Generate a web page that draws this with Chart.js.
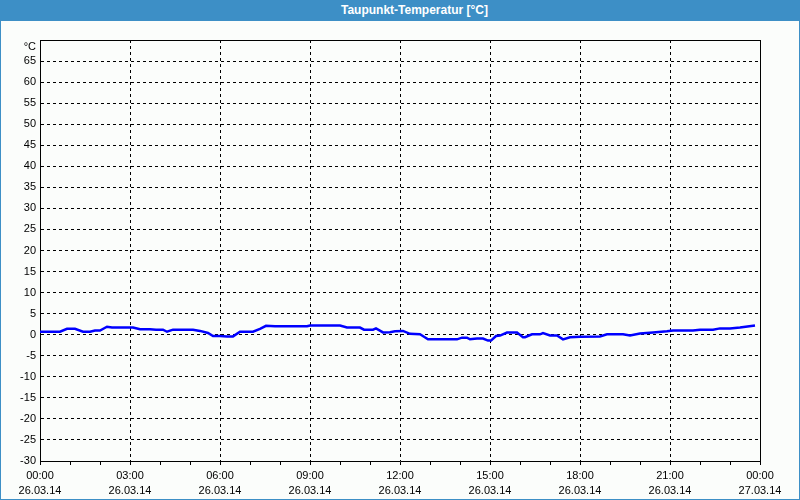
<!DOCTYPE html>
<html lang="de">
  <head>
    <meta charset="UTF-8" />
    <title>Taupunkt-Temperatur</title>
    <script src="https://cdn.jsdelivr.net/npm/chart.js"></script>
    <style>
      body {
        margin: 0;
        background: #ffffff;
      }
      .frame {
        width: 800px;
        height: 500px;
        box-sizing: border-box;
        border: 1px solid #3d8fc6;
        border-top: none;
        background: #fbfdfb;
      }
      .frame-title {
        height: 21px;
        margin: 0 -1px;
        background: #3d8fc6;
        color: #ffffff;
        font: bold 12px "Liberation Sans", Arial, sans-serif;
        line-height: 21px;
        text-align: center;
        padding-left: 29px;
        box-sizing: border-box;
      }
      .chart-box {
        position: relative;
        width: 798px;
        height: 478px;
      }
    </style>
  </head>

  <body>
    <div class="frame">
      <div class="frame-title">Taupunkt-Temperatur [°C]</div>
      <div class="chart-box">
        <canvas id="dewChart"></canvas>
      </div>
    </div>

    <script>
      // Messzeitpunkte (26.03.14, 00:00 - 24:00)
      const times = [
        "0:00", "0:40", "0:54", "1:10", "1:26", "1:40", "1:50", "2:00",
        "2:14", "2:24", "3:06", "3:20", "3:40", "3:52", "4:06", "4:14",
        "4:26", "5:06", "5:20", "5:36", "5:46", "6:00", "6:14", "6:26",
        "6:40", "7:06", "7:20", "7:32", "7:50", "8:54", "9:00", "10:00",
        "10:14", "10:40", "10:48", "11:06", "11:12", "11:26", "11:40", "11:50",
        "12:06", "12:20", "12:40", "12:48", "12:56", "13:54", "14:04", "14:14",
        "14:20", "14:34", "14:46", "14:56", "15:02", "15:12", "15:20", "15:34",
        "15:54", "16:06", "16:10", "16:24", "16:40", "16:46", "17:00", "17:14",
        "17:26", "17:40", "18:00", "18:40", "18:54", "19:26", "19:40", "20:00",
        "20:26", "20:54", "21:06", "21:46", "22:00", "22:26", "22:40", "23:00",
        "23:20", "23:50"
      ];

      // Taupunkt in °C
      const dewPoint = [
        0.7, 0.7, 1.4, 1.4, 0.7, 0.7, 1.0, 1.0,
        1.9, 1.7, 1.7, 1.3, 1.3, 1.2, 1.2, 0.7,
        1.2, 1.2, 0.9, 0.4, -0.3, -0.3, -0.4, -0.4,
        0.7, 0.7, 1.4, 2.1, 2.0, 2.0, 2.2, 2.2,
        1.7, 1.7, 1.2, 1.2, 1.5, 0.55, 0.6, 0.8,
        0.9, 0.2, 0.1, -0.5, -1.1, -1.1, -0.7, -0.7,
        -1.1, -0.9, -0.9, -1.4, -1.4, -0.3, -0.2, 0.5,
        0.5, -0.6, -0.6, 0.1, 0.1, 0.4, -0.2, -0.2,
        -1.1, -0.6, -0.5, -0.4, 0.1, 0.1, -0.2, 0.3,
        0.55, 0.8, 1.0, 1.0, 1.2, 1.2, 1.5, 1.5,
        1.7, 2.2
      ];

      // Achsenbeschriftung
      const hourLabels = ["00:00", "03:00", "06:00", "09:00", "12:00", "15:00", "18:00", "21:00", "00:00"];
      const dateLabels = ["26.03.14", "26.03.14", "26.03.14", "26.03.14", "26.03.14", "26.03.14", "26.03.14", "26.03.14", "27.03.14"];
      const yUnit = "°C";

      function toHours(t) {
        const parts = t.split(":");
        return Number(parts[0]) + Number(parts[1]) / 60;
      }

      const points = times.map(function (t, i) {
        return { x: toHours(t), y: dewPoint[i] };
      });

      // Rahmen oben und rechts
      const frameLines = {
        id: "frameLines",
        afterDraw: function (chart) {
          const a = chart.chartArea;
          const ctx = chart.ctx;
          ctx.save();
          ctx.strokeStyle = "#000000";
          ctx.lineWidth = 1;
          ctx.beginPath();
          ctx.moveTo(Math.round(a.left) + 0.5, Math.round(a.top) + 0.5);
          ctx.lineTo(Math.round(a.right) + 0.5, Math.round(a.top) + 0.5);
          ctx.lineTo(Math.round(a.right) + 0.5, Math.round(a.bottom) + 0.5);
          ctx.stroke();
          ctx.restore();
        },
      };

      const tickFont = { family: "'Liberation Sans', Arial, sans-serif", size: 11, lineHeight: 1.4 };

      var dewCtx = document.getElementById("dewChart").getContext("2d");
      var dewChart = new Chart(dewCtx, {
        type: "line",
        data: {
          datasets: [
            {
              label: "Taupunkt",
              data: points,
              borderColor: "#0000ff",
              borderWidth: 2.5,
              pointRadius: 0,
              tension: 0,
              fill: false,
            },
          ],
        },
        options: {
          responsive: true,
          maintainAspectRatio: false,
          animation: false,
          layout: {
            padding: { top: 19, right: 39, left: 0, bottom: 0 },
          },
          plugins: {
            legend: { display: false },
            tooltip: { enabled: false },
          },
          scales: {
            x: {
              type: "linear",
              min: 0,
              max: 24,
              afterFit: function (scale) {
                scale.height = 38;
              },
              border: { display: true, color: "#000000", width: 1, dash: [3, 3] },
              grid: {
                color: function (c) {
                  return c.tick && c.tick.value % 3 === 0 ? "#000000" : "rgba(0,0,0,0)";
                },
                tickColor: "#000000",
                tickLength: 4,
                tickBorderDash: [],
                drawTicks: true,
              },
              ticks: {
                stepSize: 1,
                autoSkip: false,
                maxRotation: 0,
                padding: 3,
                color: "#000000",
                font: tickFont,
                callback: function (value) {
                  if (value % 3 !== 0) return "";
                  const i = value / 3;
                  return [hourLabels[i], dateLabels[i]];
                },
              },
            },
            y: {
              min: -30,
              max: 70,
              afterFit: function (scale) {
                scale.width = 39;
              },
              border: { display: true, color: "#000000", width: 1, dash: [3, 3] },
              grid: {
                color: "#000000",
                drawTicks: false,
              },
              ticks: {
                stepSize: 5,
                autoSkip: false,
                padding: 4,
                color: "#000000",
                font: { family: "'Liberation Sans', Arial, sans-serif", size: 11 },
                callback: function (value) {
                  if (value === 70) return ["", yUnit];
                  return value;
                },
              },
            },
          },
        },
        plugins: [frameLines],
      });
    </script>
  </body>
</html>
